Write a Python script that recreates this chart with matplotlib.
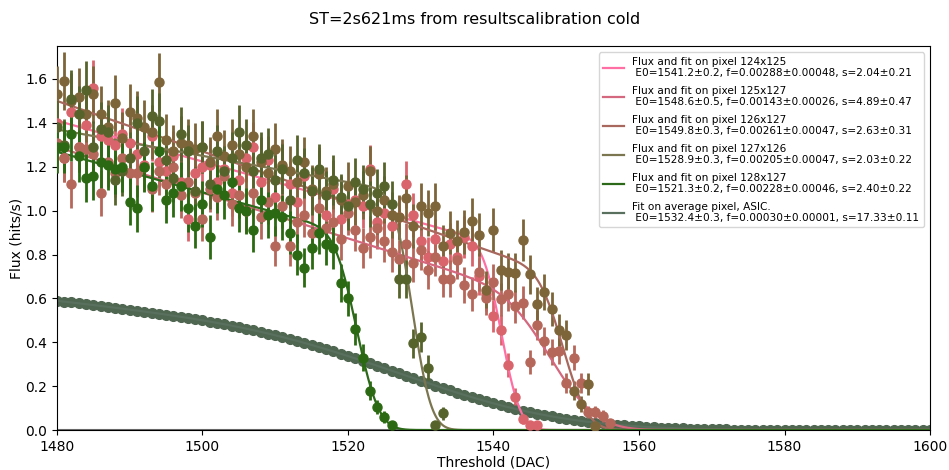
import matplotlib
matplotlib.use("Agg")
import matplotlib.pyplot as plt
import numpy as np
from math import erfc, sqrt

# fit parameters shown in the legend
pixels = ["124x125", "125x127", "126x127", "127x126", "128x127"]
E0 = [1541.2, 1548.6, 1549.8, 1528.9, 1521.3]
E0_err = [0.2, 0.5, 0.3, 0.3, 0.2]
f_par = [0.00288, 0.00143, 0.00261, 0.00205, 0.00228]
f_err = [0.00048, 0.00026, 0.00047, 0.00047, 0.00046]
s_par = [2.04, 4.89, 2.63, 2.03, 2.40]
s_err = [0.21, 0.47, 0.31, 0.22, 0.22]

# plateau of each fit curve: level at 1480 and slope per DAC
level0 = [1.41, 1.29, 1.50, 1.37, 1.268]
slope = [0.0093, 0.0104, 0.0115, 0.006, 0.0092]

avg_E0, avg_E0_err = 1532.4, 0.3
avg_f, avg_f_err = 0.00030, 0.00001
avg_s, avg_s_err = 17.33, 0.11
avg_level0, avg_slope = 0.59, 0.0037

# measured flux, one value per DAC step starting at 1480
flux_124x125 = [1.40, 1.24, 1.45, 1.29, 1.39, 1.56, 1.34, 1.32, 1.30, 1.35,
                1.31, 1.26, 1.21, 1.34, 1.22, 1.18, 1.25, 1.13, 0.96, 1.17,
                1.20, 1.21, 1.13, 1.19, 1.08, 1.14, 1.24, 1.29, 1.13, 1.23,
                1.06, 1.20, 1.12, 1.04, 1.16, 1.09, 1.18, 0.98, 1.10, 0.96,
                1.03, 1.05, 1.02, 1.19, 0.95, 0.99, 0.93, 0.97, 1.12, 0.98,
                0.86, 0.79, 0.87, 0.77, 0.85, 0.79, 0.88, 0.84, 0.70, 0.62,
                0.52, 0.456, 0.296, 0.152, 0.05, 0.023, 0.023]
flux_125x127 = [1.31, 1.24, 1.12, 1.29, 1.28, 1.26, 1.08, 1.22, 1.17, 1.24,
                1.17, 1.17, 1.20, 1.10, 1.18, 1.12, 1.20, 1.07, 1.13, 1.08,
                0.96, 1.10, 1.06, 1.16, 1.03, 1.07, 1.00, 1.08, 0.97, 1.04,
                0.84, 1.02, 0.84, 0.95, 0.98, 0.90, 1.01, 0.92, 0.95, 0.87,
                0.99, 0.91, 0.83, 0.88, 0.92, 0.86, 0.81, 0.78, 0.85, 0.76,
                0.82, 0.73, 0.79, 0.69, 0.69, 0.775, 0.66, 0.62, 0.72, 0.60,
                0.676, 0.595, 0.62, 0.565, 0.58, 0.31, 0.48, 0.407, 0.357, 0.36,
                0.213, 0.33, 0.213, 0.083, 0.083, 0.064, 0.03]
flux_126x127 = [1.53, 1.59, 1.50, 1.52, 1.44, 1.53, 1.44, 1.38, 1.49, 1.33,
                1.45, 1.42, 1.38, 1.36, 1.585, 1.32, 1.27, 1.31, 1.30, 1.28,
                1.29, 1.22, 1.34, 1.25, 1.30, 1.26, 1.20, 1.34, 1.22, 1.17,
                1.28, 1.21, 1.18, 1.13, 1.22, 1.10, 1.165, 1.09, 1.12, 1.05,
                1.11, 1.04, 1.07, 1.18, 1.00, 1.05, 0.98, 0.97, 1.056, 0.93,
                1.02, 0.99, 1.02, 0.84, 0.90, 0.86, 0.904, 0.955, 0.89, 0.64,
                0.91, 0.73, 0.72, 0.717, 0.866, 0.71, 0.574, 0.63, 0.55, 0.456,
                0.433, 0.18, 0.12, 0.21, 0.02]
flux_127x126 = [1.38, 1.30, 1.51, 1.44, 1.55, 1.29, 1.37, 1.36, 1.14, 1.18,
                1.24, 1.40, 1.27, 1.43, 1.41, 1.23, 1.15, 1.35, 1.27, 1.09,
                1.29, 1.12, 1.27, 1.18, 1.24, 1.36, 1.30, 1.18, 1.24, 1.26,
                1.14, 1.19, 1.05, 1.23, 1.17, 1.09, 1.19, 1.07, 1.14, 1.06,
                1.02, 1.13, 1.10, 1.03, 1.08, 1.11, 1.03, 0.69, 0.69, 0.395,
                0.425, 0.285, 0.025, 0.077]
flux_128x127 = [1.29, 1.29, 1.35, 1.25, 1.15, 1.16, 1.22, 1.21, 1.19, 1.20,
                1.04, 1.01, 1.20, 1.11, 1.27, 1.05, 1.08, 1.11, 1.01, 0.93,
                1.03, 0.88, 1.10, 1.07, 1.13, 1.01, 1.00, 0.91, 1.05, 0.98,
                0.99, 0.97, 0.90, 0.80, 0.74, 0.83, 0.90, 0.85, 0.83, 0.67,
                0.60, 0.46, 0.33, 0.18, 0.105, 0.06, 0.023]
fluxes = [flux_124x125, flux_125x127, flux_126x127, flux_127x126, flux_128x127]
err_scale = [0.10, 0.10, 0.105, 0.105, 0.105]

point_colors = ["#d9646b", "#b5675a", "#7d6539", "#56642c", "#2b6a12"]
line_colors = ["#ff6fa3", "#d4687f", "#a8685e", "#7b7650", "#2c6a1a"]
avg_color = "#4f6651"

x_start = 1480
x_fit = np.linspace(1480, 1600, 1201)
x_avg = np.arange(1480, 1601)


def scurve(x, lvl, slp, e0, s):
    x = np.asarray(x, dtype=float)
    step = np.array([0.5 * erfc((xi - e0) / (sqrt(2) * s)) for xi in x])
    return (lvl - slp * (x - x_start)) * step


fig = plt.figure(figsize=(9.49, 4.70), dpi=100)
ax = fig.add_axes([0.060, 0.085, 0.920, 0.817])

ax.axhline(0, color="#6e6e6e", lw=1.5, zorder=1)

# average pixel
ax.plot(x_avg, scurve(x_avg, avg_level0, avg_slope, avg_E0, avg_s), "o",
        color=avg_color, ms=7, zorder=2)
avg_label = ("Fit on average pixel, ASIC.\n E0=%.1f±%.1f, f=%.5f±%.5f, s=%.2f±%.2f"
             % (avg_E0, avg_E0_err, avg_f, avg_f_err, avg_s, avg_s_err))

for i, name in enumerate(pixels):
    y = np.array(fluxes[i])
    x = np.arange(x_start, x_start + len(y))
    ax.errorbar(x, y, yerr=err_scale[i] * np.sqrt(y), fmt="o", ms=6.5,
                color=point_colors[i], elinewidth=2, capsize=0, zorder=3)
    label = ("Flux and fit on pixel %s\n E0=%.1f±%.1f, f=%.5f±%.5f, s=%.2f±%.2f"
             % (name, E0[i], E0_err[i], f_par[i], f_err[i], s_par[i], s_err[i]))
    ax.plot(x_fit, scurve(x_fit, level0[i], slope[i], E0[i], s_par[i]),
            color=line_colors[i], lw=1.6, label=label, zorder=3)

ax.plot(x_fit, scurve(x_fit, avg_level0, avg_slope, avg_E0, avg_s),
        color="#5a705f", lw=1.6, label=avg_label, zorder=2)

ax.set_xlim(1480, 1600)
ax.set_ylim(0, 1.75)
ax.set_xlabel("Threshold (DAC)", labelpad=1)
ax.set_ylabel("Flux (hits/s)", labelpad=1)
ax.legend(loc="upper right", fontsize=7.6, labelspacing=0.7,
          handlelength=2.0, borderaxespad=0.6)
fig.suptitle("ST=2s621ms from resultscalibration cold", fontsize=11.5, y=0.975)

fig.savefig("out.png", dpi=100)
